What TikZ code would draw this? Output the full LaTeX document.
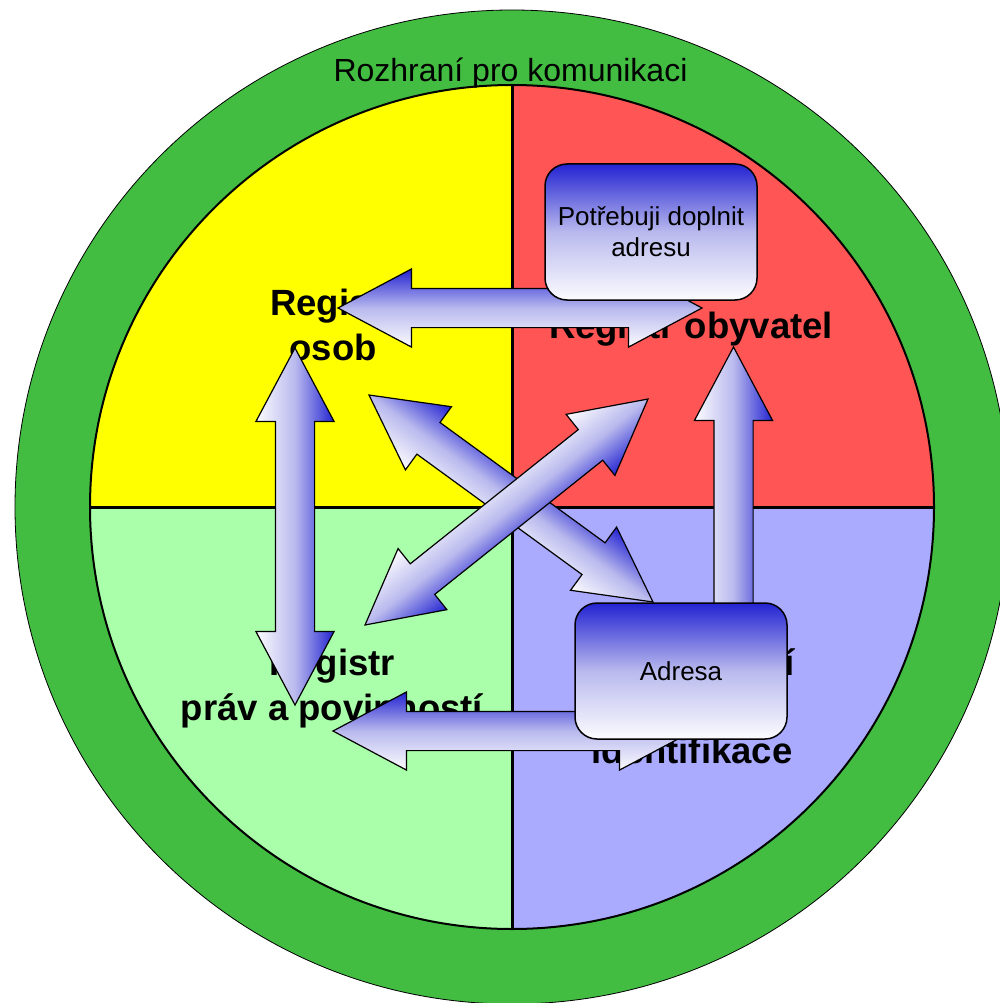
\documentclass[tikz,border=0pt]{standalone}
\usepackage{fontspec}
\setmainfont{Liberation Sans}
\usetikzlibrary{shapes.arrows,calc,positioning}
\definecolor{ring}{RGB}{66,189,66}
\definecolor{qyel}{RGB}{255,255,0}
\definecolor{qred}{RGB}{255,85,85}
\definecolor{qgrn}{RGB}{170,255,170}
\definecolor{qblu}{RGB}{170,170,255}
\definecolor{deep}{RGB}{35,35,210}
\definecolor{midblue}{RGB}{185,185,238}
\definecolor{pale}{RGB}{252,252,255}
\pgfdeclareverticalshading{fade}{100bp}{color(0bp)=(pale); color(25bp)=(pale); color(50bp)=(midblue); color(75bp)=(deep); color(100bp)=(deep)}
\tikzset{
  reg/.style={font=\fontsize{36.5}{45}\selectfont\bfseries,align=center,anchor=base,inner sep=0pt},
  msg/.style={draw,line width=1.5pt,rounded corners=22pt,shading=fade,minimum width=212pt,minimum height=136pt,align=center,font=\fontsize{26}{31}\selectfont},
  dbl/.style={double arrow,draw,line width=1.2pt,shading=fade,minimum width=77pt,double arrow head extend=19.5pt,double arrow tip angle=56,inner xsep=0pt,inner ysep=19pt},
}

\begin{document}
\begin{tikzpicture}[x=1pt,y=-1pt]
  \useasboundingbox (0,0) rectangle (1000,1003);
  \coordinate (c) at (512,507);
  \fill[ring,draw=black,line width=0.8pt] (c) circle[radius=497];
  \begin{scope}
    \clip (c) circle[radius=422];
    \fill[qyel] (0,0) rectangle (c);
    \fill[qred] (1000,0) rectangle (c);
    \fill[qgrn] (0,1003) rectangle (c);
    \fill[qblu] (1000,1003) rectangle (c);
    \draw[line width=3pt] (0,507) -- (1000,507) (512,0) -- (512,1003);
  \end{scope}
  \draw[line width=2pt] (c) circle[radius=422];
  \node[font=\fontsize{32}{38}\selectfont,anchor=base] (rk) at (510.5,82) {Rozhraní pro komunikaci};
  \node[reg] (ros) at (333,360) {Registr\\osob};
  \node[reg] (rob) at (691,338) {Registr obyvatel};
  \node[reg] (rpp) at (332,720) {Registr\\práv a povinností};
  \node[reg,font=\fontsize{36.5}{44}\selectfont\bfseries] (rui) at (692,763) {Registr\\nemovitostí\\a územní\\identifikace};
  \coordinate (os1) at (338,308);   \coordinate (ob1) at (702,308);
  \coordinate (os2) at (295,348);   \coordinate (pp2) at (295,705);
  \coordinate (os3) at (369,395);   \coordinate (ad3) at (653,602);
  \coordinate (ob4) at (648,399);   \coordinate (pp4) at (365,625);
  \coordinate (ob5) at (733.5,347); \coordinate (ad5) at (733.5,705);
  \coordinate (pp6) at (333,731);   \coordinate (ad6) at (693,731);
  \foreach \fa/\fb in {os1/ob1,os2/pp2,os3/ad3,ob4/pp4,ob5/ad5,pp6/ad6}{
    \pgfmathanglebetweenpoints{\pgfpointanchor{\fa}{center}}{\pgfpointanchor{\fb}{center}}
    \let\ang\pgfmathresult
    \begin{scope}[transform canvas={rotate around={\ang:($(\fa)!.5!(\fb)$)}}]
      \path let \p1=($(\fb)-(\fa)$) in ($(\fa)!.5!(\fb)$) node[dbl,minimum height={veclen(\x1,\y1)}] {};
    \end{scope}}
  \node[msg] (pot) at (651,232) {Potřebuji doplnit\\adresu};
  \node[msg] (adr) at (681,671) {Adresa};
\end{tikzpicture}
\end{document}
